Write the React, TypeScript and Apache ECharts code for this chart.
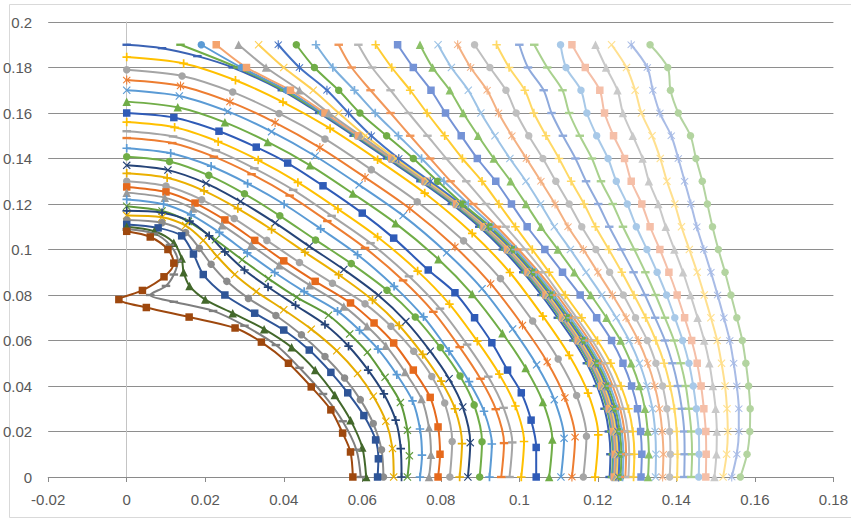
import React, { useEffect, useRef } from "react";
import * as echarts from "echarts";

// ---------- axis ticks ----------
const xTicks = [-0.02, 0, 0.02, 0.04, 0.06, 0.08, 0.1, 0.12, 0.14, 0.16, 0.18];
const yTicks = [0, 0.02, 0.04, 0.06, 0.08, 0.1, 0.12, 0.14, 0.16, 0.18, 0.2];

// ---------- family 1: curves from the left edge (x = 0) to the x axis ----------
const c01 = [[0,0.19],[0.009,0.1885],[0.018,0.185],[0.027,0.18],[0.0395,0.17],[0.049,0.16],[0.0578,0.15],[0.0663,0.14],[0.0748,0.13],[0.0828,0.12],[0.0898,0.11],[0.0958,0.1],[0.101,0.09],[0.1056,0.08],[0.1098,0.07],[0.1138,0.06],[0.1172,0.05],[0.1198,0.04],[0.1217,0.03],[0.1228,0.02],[0.1232,0.01],[0.123,0]];
const c02x = [0,0.0145,0.0277,0.0398,0.0518,0.0639,0.0759,0.088,0.0976,0.106,0.1127,0.1175,0.1201,0.1193];
const c02y = [0.1846,0.1818,0.1744,0.1648,0.1532,0.1394,0.1248,0.1071,0.0899,0.0707,0.0535,0.0369,0.0185,0];
const c03x = [0,0.0141,0.027,0.0388,0.0505,0.0623,0.074,0.0858,0.0952,0.1034,0.1099,0.1146,0.1171,0.1163];
const c03y = [0.179,0.1763,0.1692,0.1598,0.1486,0.1351,0.121,0.1038,0.0872,0.0686,0.0519,0.0358,0.0179,0];
const c04x = [0,0.0137,0.0263,0.0378,0.0492,0.0607,0.0721,0.0836,0.0927,0.1008,0.1071,0.1116,0.1142,0.1134];
const c04y = [0.1745,0.1719,0.1649,0.1558,0.1448,0.1317,0.118,0.1012,0.085,0.0668,0.0506,0.0349,0.0175,0];
const c05x = [0,0.0134,0.0257,0.0369,0.048,0.0592,0.0704,0.0815,0.0905,0.0983,0.1044,0.1089,0.1114,0.1106];
const c05y = [0.17,0.1675,0.1607,0.1518,0.1411,0.1284,0.1149,0.0986,0.0828,0.0651,0.0493,0.034,0.017,0];
const c06x = [0,0.013,0.025,0.0359,0.0467,0.0576,0.0685,0.0794,0.088,0.0957,0.1016,0.106,0.1084,0.1076];
const c06y = [0.165,0.1625,0.1559,0.1473,0.137,0.1246,0.1115,0.0957,0.0804,0.0632,0.0479,0.033,0.0165,0];
const c07 = [[0,0.16],[0.012,0.158],[0.0235,0.152],[0.033,0.145],[0.041,0.138],[0.05,0.128],[0.06,0.116],[0.068,0.105],[0.0768,0.091],[0.0836,0.081],[0.0886,0.07],[0.093,0.059],[0.097,0.047],[0.1005,0.037],[0.103,0.025],[0.1043,0.013],[0.1043,0]];
const c08x = [0,0.0122,0.0233,0.0335,0.0436,0.0538,0.0639,0.0741,0.0822,0.0893,0.0949,0.099,0.1012,0.1005];
const c08y = [0.156,0.1537,0.1474,0.1393,0.1295,0.1178,0.1055,0.0905,0.076,0.0597,0.0452,0.0312,0.0156,0];
const c09x = [0,0.0118,0.0227,0.0325,0.0424,0.0522,0.0621,0.0719,0.0798,0.0867,0.0921,0.096,0.0982,0.0975];
const c09y = [0.152,0.1497,0.1436,0.1357,0.1262,0.1148,0.1028,0.0882,0.074,0.0582,0.0441,0.0304,0.0152,0];
const c10x = [0,0.0116,0.0222,0.0318,0.0415,0.0511,0.0607,0.0704,0.0781,0.0848,0.0901,0.094,0.0961,0.0954];
const c10y = [0.149,0.1468,0.1408,0.1331,0.1237,0.1125,0.1007,0.0864,0.0726,0.0571,0.0432,0.0298,0.0149,0];
const c11x = [0,0.0112,0.0215,0.0308,0.0401,0.0494,0.0588,0.0681,0.0756,0.0821,0.0872,0.091,0.093,0.0924];
const c11y = [0.1445,0.1423,0.1366,0.129,0.1199,0.1091,0.0977,0.0838,0.0704,0.0553,0.0419,0.0289,0.0145,0];
const c12x = [0,0.0109,0.0209,0.03,0.039,0.0481,0.0572,0.0663,0.0735,0.0799,0.0849,0.0885,0.0905,0.0899];
const c12y = [0.1408,0.1387,0.1326,0.1245,0.1148,0.1042,0.0938,0.0821,0.0703,0.0569,0.0444,0.0317,0.0155,0];
const c13x = [0,0.0105,0.0202,0.029,0.0378,0.0465,0.0553,0.0641,0.0711,0.0773,0.0821,0.0856,0.0875,0.0869];
const c13y = [0.137,0.1349,0.1291,0.1211,0.1117,0.1014,0.0912,0.0799,0.0684,0.0553,0.0432,0.0308,0.0151,0];
const c14x = [0,0.0103,0.0197,0.0283,0.0369,0.0454,0.054,0.0626,0.0694,0.0754,0.0801,0.0836,0.0854,0.0848];
const c14y = [0.1335,0.1315,0.1258,0.118,0.1088,0.0988,0.0889,0.0778,0.0666,0.0539,0.0421,0.03,0.0147,0];
const c15x = [0,0.01,0.0191,0.0274,0.0357,0.044,0.0524,0.0607,0.0673,0.0731,0.0777,0.081,0.0829,0.0823];
const c15y = [0.13,0.1279,0.1219,0.1136,0.104,0.0943,0.0852,0.0761,0.0663,0.0553,0.0442,0.0325,0.0156,0];
const c16 = [[0,0.1275],[0.01,0.1253],[0.0174,0.1204],[0.025,0.113],[0.0326,0.104],[0.04,0.095],[0.048,0.086],[0.057,0.0765],[0.063,0.0677],[0.068,0.0589],[0.073,0.047],[0.0773,0.035],[0.0793,0.022],[0.0798,0.01],[0.0793,0]];
const c17 = [[0,0.125],[0.0097,0.1228],[0.0169,0.118],[0.0243,0.1107],[0.0317,0.1019],[0.0388,0.0931],[0.0466,0.0843],[0.0553,0.075],[0.0612,0.0663],[0.066,0.0577],[0.0709,0.0461],[0.0751,0.0343],[0.077,0.0216],[0.0775,0.0098],[0.077,0]];
const c18 = [[0,0.122],[0.0094,0.1199],[0.0164,0.1152],[0.0236,0.1075],[0.0307,0.0985],[0.0377,0.0899],[0.0452,0.0815],[0.0537,0.0729],[0.0593,0.0645],[0.064,0.0562],[0.0688,0.045],[0.0728,0.0335],[0.0747,0.0211],[0.0752,0.0096],[0.0747,0]];
const c19 = [[0,0.119],[0.009,0.1169],[0.0157,0.1123],[0.0226,0.1043],[0.0294,0.0955],[0.0361,0.0872],[0.0433,0.079],[0.0514,0.0711],[0.0568,0.0629],[0.0613,0.0548],[0.0658,0.0438],[0.0697,0.0327],[0.0715,0.0205],[0.072,0.0093],[0.0715,0]];
const c20 = [[0,0.117],[0.009,0.1162],[0.016,0.1125],[0.021,0.106],[0.025,0.099],[0.03,0.091],[0.036,0.0835],[0.043,0.0755],[0.0505,0.067],[0.0565,0.0575],[0.0615,0.047],[0.0655,0.0365],[0.0685,0.025],[0.0698,0.0125],[0.07,0]];
const c21 = [[0,0.115],[0.009,0.1142],[0.015,0.1105],[0.0195,0.104],[0.023,0.097],[0.0275,0.089],[0.033,0.0815],[0.04,0.0735],[0.047,0.065],[0.0535,0.0555],[0.0588,0.0455],[0.0628,0.0355],[0.066,0.0245],[0.0677,0.0125],[0.068,0]];
const c22 = [[0,0.113],[0.009,0.1118],[0.015,0.1075],[0.0185,0.1005],[0.0215,0.0935],[0.0255,0.086],[0.031,0.0785],[0.038,0.071],[0.0445,0.0625],[0.0505,0.053],[0.0555,0.0435],[0.0595,0.034],[0.0628,0.0235],[0.0649,0.012],[0.0654,0]];
const c23 = [[0,0.111],[0.008,0.1095],[0.014,0.106],[0.017,0.098],[0.0195,0.089],[0.025,0.08],[0.0326,0.072],[0.04,0.0646],[0.0465,0.0558],[0.052,0.046],[0.0563,0.037],[0.0604,0.027],[0.0634,0.0163],[0.0641,0.008],[0.0639,0]];
const c24 = [[0,0.11],[0.007,0.108],[0.012,0.103],[0.014,0.096],[0.0145,0.09],[0.016,0.084],[0.02,0.078],[0.027,0.072],[0.035,0.065],[0.042,0.057],[0.048,0.047],[0.053,0.036],[0.057,0.025],[0.06,0.013],[0.061,0]];
const c25 = [[0,0.109],[0.007,0.107],[0.011,0.102],[0.013,0.095],[0.012,0.089],[0.01,0.084],[0.006,0.08],[0.012,0.077],[0.022,0.073],[0.03,0.0665],[0.038,0.058],[0.044,0.048],[0.05,0.0365],[0.055,0.0245],[0.0585,0.012],[0.0596,0]];
const c26 = [[0,0.108],[0.006,0.1055],[0.0105,0.1],[0.012,0.094],[0.0095,0.088],[0.004,0.082],[-0.002,0.078],[0.005,0.0745],[0.0159,0.0703],[0.0276,0.0655],[0.0343,0.0593],[0.0412,0.05],[0.047,0.0396],[0.052,0.0295],[0.055,0.0193],[0.057,0.011],[0.0576,0]];

// ---------- family 2: curves from the top (y = 0.19) to the x axis, x read at shared y levels ----------
const yLevels = [0.19,0.18,0.17,0.16,0.15,0.14,0.13,0.12,0.11,0.1,0.09,0.08,0.07,0.06,0.05,0.04,0.03,0.02,0.01,0];
const k01 = [0.0137,0.0282,0.0401,0.0496,0.0584,0.0669,0.0754,0.0834,0.0904,0.0964,0.1016,0.1062,0.1104,0.1144,0.1178,0.1204,0.1223,0.1234,0.1238,0.1236];
const k02 = [0.019,0.0292,0.0408,0.0499,0.0587,0.0672,0.0757,0.0837,0.0907,0.0967,0.1019,0.1065,0.1107,0.1147,0.1181,0.1207,0.1226,0.1237,0.1241,0.1239];
const k03 = [0.0228,0.0305,0.0417,0.0505,0.059,0.0675,0.076,0.084,0.091,0.097,0.1022,0.1068,0.111,0.115,0.1184,0.121,0.1229,0.124,0.1244,0.1242];
const k04 = [0.0285,0.0355,0.044,0.0515,0.0596,0.0678,0.0763,0.0843,0.0913,0.0973,0.1025,0.1071,0.1113,0.1153,0.1187,0.1213,0.1232,0.1243,0.1247,0.1245];
const k05 = [0.0336,0.04,0.0475,0.054,0.0608,0.0685,0.0767,0.0847,0.0917,0.0977,0.1029,0.1075,0.1117,0.1157,0.1191,0.1217,0.1236,0.1247,0.1251,0.1249];
const k06 = [0.0386,0.044,0.051,0.0565,0.0623,0.0693,0.0773,0.0851,0.0921,0.0981,0.1033,0.1079,0.1121,0.1161,0.1195,0.1221,0.124,0.1251,0.1255,0.1253];
const k07 = [0.0432,0.0478,0.054,0.0594,0.0662,0.073,0.0792,0.0856,0.0926,0.0986,0.1038,0.1084,0.1126,0.1166,0.12,0.1226,0.1245,0.1256,0.126,0.1258];
const k08 = [0.0482,0.0525,0.058,0.0633,0.0692,0.0751,0.0808,0.087,0.0934,0.0991,0.1043,0.1089,0.1131,0.1171,0.1205,0.1231,0.125,0.1261,0.1265,0.1263];
const k09 = [0.054,0.0573,0.0621,0.0672,0.0722,0.0773,0.0825,0.0883,0.0943,0.0998,0.105,0.1096,0.1138,0.1178,0.1212,0.1238,0.1257,0.1268,0.1272,0.127];
const k10 = [0.059,0.0625,0.0672,0.0718,0.0766,0.0814,0.0865,0.0915,0.0965,0.1015,0.1062,0.1104,0.1146,0.1186,0.122,0.1246,0.1265,0.1276,0.128,0.1278];
const k11 = [0.0634,0.0675,0.0722,0.0765,0.081,0.0855,0.0905,0.0948,0.099,0.1033,0.1076,0.1117,0.1159,0.1199,0.1233,0.1259,0.1278,0.1289,0.1293,0.1291];
const k12 = [0.069,0.073,0.0775,0.0812,0.0852,0.0893,0.094,0.098,0.102,0.1065,0.111,0.1155,0.1197,0.1235,0.1264,0.1286,0.1301,0.1309,0.1312,0.131];
const k13 = [0.0747,0.0779,0.0823,0.0857,0.0895,0.0935,0.0978,0.1017,0.1055,0.1098,0.114,0.1182,0.1222,0.1258,0.1285,0.1306,0.132,0.1327,0.133,0.1328];
const k14 = [0.0793,0.0827,0.087,0.0902,0.0938,0.0976,0.1017,0.1054,0.1089,0.113,0.117,0.121,0.1247,0.128,0.1306,0.1325,0.1339,0.1346,0.1348,0.1347];
const k15 = [0.0843,0.0876,0.0918,0.0947,0.0981,0.1018,0.1055,0.1091,0.1124,0.1163,0.12,0.1237,0.1272,0.1303,0.1327,0.1345,0.1357,0.1364,0.1367,0.1365];
const k16 = [0.0886,0.0925,0.0966,0.0992,0.1024,0.106,0.1093,0.1127,0.1159,0.1195,0.123,0.1265,0.1296,0.1326,0.1348,0.1365,0.1376,0.1383,0.1385,0.1383];
const k17 = [0.0942,0.0974,0.1014,0.1037,0.1068,0.1101,0.1132,0.1165,0.1194,0.1228,0.1261,0.1292,0.1322,0.1348,0.1369,0.1384,0.1395,0.1401,0.1403,0.1402];
const k18 = [0.1,0.1022,0.1062,0.1082,0.1111,0.1143,0.117,0.1201,0.1229,0.126,0.1291,0.132,0.1346,0.1371,0.139,0.1404,0.1414,0.142,0.1421,0.142];
const k19 = [0.1038,0.1071,0.111,0.1127,0.1154,0.1185,0.1208,0.1238,0.1264,0.1293,0.1321,0.1347,0.1371,0.1394,0.1411,0.1424,0.1432,0.1438,0.144,0.1438];
const k20 = [0.1105,0.1119,0.1157,0.1172,0.1197,0.1226,0.1247,0.1275,0.1298,0.1325,0.1351,0.1375,0.1396,0.1416,0.1432,0.1443,0.1451,0.1457,0.1458,0.1457];
const k21 = [0.1134,0.1168,0.1205,0.1217,0.124,0.1268,0.1285,0.1312,0.1333,0.1358,0.1381,0.1402,0.1421,0.1439,0.1453,0.1463,0.147,0.1475,0.1476,0.1475];
const k22 = [0.1194,0.1221,0.125,0.1264,0.1289,0.1314,0.133,0.1354,0.1373,0.1395,0.1417,0.1436,0.1454,0.1471,0.1484,0.1493,0.15,0.1503,0.1502,0.1497];
const k23 = [0.1235,0.1273,0.1295,0.1311,0.1338,0.1359,0.1376,0.1396,0.1413,0.1433,0.1453,0.1471,0.1488,0.1504,0.1515,0.1524,0.1529,0.1531,0.1528,0.1519];
const k24 = [0.1285,0.1326,0.134,0.1358,0.1387,0.1405,0.1421,0.1437,0.1452,0.147,0.1488,0.1505,0.1521,0.1536,0.1546,0.1554,0.1559,0.1559,0.1554,0.1541];
const k25 = [0.1333,0.1378,0.1385,0.1405,0.1436,0.145,0.1466,0.1479,0.1492,0.1507,0.1524,0.1539,0.1554,0.1568,0.1577,0.1584,0.1588,0.1587,0.158,0.1563];

// ---------- styles ----------
const SYM: Record<string, string> = {
  rect: "rect",
  circle: "circle",
  triangle: "triangle",
  x: "path://M1,0L5,4L9,0L10,1L6,5L10,9L9,10L5,6L1,10L0,9L4,5L0,1Z",
  plus: "path://M4,0H6V4H10V6H6V10H4V6H0V4H4Z",
  dash: "path://M0,0H10V2.8H0Z",
  star: "path://M4.4,0H5.6V3.9L8.6,1L9.4,1.8L6.3,5L9.4,8.2L8.6,9L5.6,6.1V10H4.4V6.1L1.4,9L0.6,8.2L3.7,5L0.6,1.8L1.4,1L4.4,3.9Z",
};
const SIZE: Record<string, number> = { rect: 7.5, circle: 7.5, triangle: 8.5, x: 8, plus: 8.5, dash: 8.5, star: 9 };

const f1Colors = ["#3A62B4","#FFC000","#A5A5A5","#ED7D31","#5B9BD5","#70AD47","#2F5BB7","#FFC000","#A5A5A5","#ED7D31","#5B9BD5","#70AD47","#264478","#EBB000","#A5A5A5","#E6691C","#9A9A9A","#5B9BD5","#5E9A3A","#264478","#E6AC00","#8C8C8C","#2F5597","#43682B","#7F7F7F","#9E480E"];
const f1Symbols = ["dash","plus","circle","star","x","triangle","rect","plus","dash","dash","plus","circle","x","plus","circle","rect","triangle","plus","x","plus","x","circle","rect","triangle","dash","rect"];
const f2Colors = ["#70AD47","#5B9BD5","#F4A46E","#A5A5A5","#FFD055","#4472C4","#70AD47","#7CAFDD","#F1975A","#B7B7B7","#FFCD33","#7593D6","#8CC168","#9DC3E6","#F4B183","#BFBFBF","#FFD966","#8FAADC","#A9D18E","#A8C9E8","#F5BFA8","#C9C9C9","#FFE08F","#A9BCE6","#B3D4A0"];
const f2Symbols = ["dash","circle","rect","triangle","x","star","circle","plus","dash","dash","plus","rect","triangle","x","star","circle","plus","dash","dash","circle","rect","triangle","x","star","circle"];

const zip = (xs: number[], ys: number[]) => xs.map((x, i) => [x, ys[i]]);

const family1: number[][][] = [
  c01, zip(c02x, c02y), zip(c03x, c03y), zip(c04x, c04y), zip(c05x, c05y), zip(c06x, c06y), c07,
  zip(c08x, c08y), zip(c09x, c09y), zip(c10x, c10y), zip(c11x, c11y), zip(c12x, c12y), zip(c13x, c13y),
  zip(c14x, c14y), zip(c15x, c15y), c16, c17, c18, c19, c20, c21, c22, c23, c24, c25, c26,
];
const family2: number[][][] = [k01,k02,k03,k04,k05,k06,k07,k08,k09,k10,k11,k12,k13,k14,k15,k16,k17,k18,k19,k20,k21,k22,k23,k24,k25].map(
  (xs) => zip(xs, yLevels)
);

const fmt = (v: number) => String(Math.round(v * 100) / 100);

function makeSeries(data: number[][], color: string, sym: string, name: string) {
  return {
    type: "line",
    name,
    data,
    smooth: 0.3,
    silent: true,
    symbol: SYM[sym],
    symbolSize: SIZE[sym],
    symbolKeepAspect: true,
    lineStyle: { color, width: 2 },
    itemStyle: { color, borderWidth: 0 },
    emphasis: { disabled: true },
  };
}

export default function App() {
  const ref = useRef<HTMLDivElement>(null);
  useEffect(() => {
    if (!ref.current) return;
    const chart = echarts.init(ref.current, undefined, { renderer: "svg" });
    const series: any[] = [];
    family1.forEach((d, i) => series.push(makeSeries(d, f1Colors[i], f1Symbols[i], "A" + (i + 1))));
    family2.forEach((d, i) => series.push(makeSeries(d, f2Colors[i], f2Symbols[i], "B" + (i + 1))));
    const labelStyle = { fontSize: 15, color: "#595959", fontFamily: "Liberation Sans, Arial, sans-serif" };
    chart.setOption({
      animation: false,
      backgroundColor: "#ffffff",
      grid: { left: 45, right: 14, top: 22, bottom: 42 },
      xAxis: {
        type: "value",
        min: xTicks[0],
        max: xTicks[xTicks.length - 1],
        interval: 0.02,
        axisLine: { show: true, onZero: true, lineStyle: { color: "#8A8A8A", width: 1 } },
        axisTick: { show: true, length: 5, lineStyle: { color: "#8A8A8A" } },
        axisLabel: { ...labelStyle, margin: 15, formatter: fmt },
        splitLine: { show: false },
      },
      yAxis: {
        type: "value",
        min: yTicks[0],
        max: yTicks[yTicks.length - 1],
        interval: 0.02,
        axisLine: { show: true, onZero: true, lineStyle: { color: "#C4C4C4", width: 1 } },
        axisTick: { show: false },
        axisLabel: { ...labelStyle, margin: 16, formatter: fmt },
        splitLine: { show: true, lineStyle: { color: "#8E8E8E", width: 1 } },
      },
      graphic: [
        {
          type: "rect",
          silent: true,
          shape: { x: 9.5, y: 4.5, width: 850, height: 513 },
          style: { fill: "none", stroke: "#D9D9D9", lineWidth: 1 },
        },
      ],
      series,
    });
    return () => chart.dispose();
  }, []);
  return <div ref={ref} style={{ position: "fixed", left: 0, top: 0, width: 851, height: 519 }} />;
}
